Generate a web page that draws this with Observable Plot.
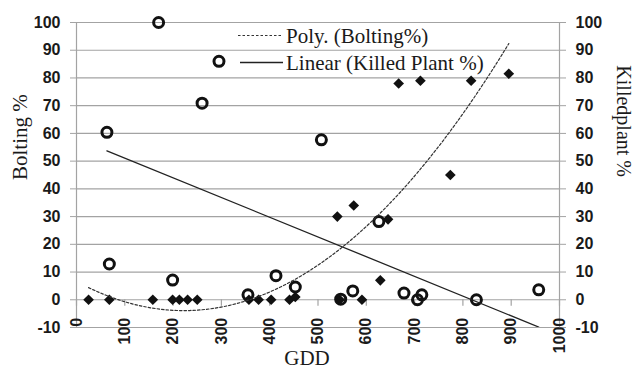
<!DOCTYPE html>
<html>
<head>
<meta charset="utf-8">
<script src="https://cdn.jsdelivr.net/npm/d3@7"></script>
<script src="https://cdn.jsdelivr.net/npm/@observablehq/plot@0.6"></script>
<style>
  html, body { margin: 0; padding: 0; background: white; }
  #wrap { position: relative; width: 635px; height: 373px; }
  #legend { position: absolute; left: 0; top: 0; pointer-events: none; }
</style>
</head>
<body>
<div id="wrap"></div>
<script>
// ---- data ----
const boltingGDD = [25, 68, 158, 199, 213, 230, 250, 357, 377, 403, 441, 453, 545, 540, 574, 591, 629, 645, 667, 712, 774, 817, 895];
const boltingPct = [0, 0, 0, 0, 0, 0, 0, 0, 0, 0, 0, 1, 0, 30, 34, 0, 7, 29, 78, 79, 45, 79, 81.5];
const killedGDD = [63, 68, 170, 199, 260, 295, 355, 413, 453, 507, 547, 572, 626, 678, 706, 715, 828, 957];
const killedPct = [60.4, 12.9, 100, 7.1, 70.9, 86, 1.8, 8.7, 4.6, 57.7, 0.2, 3.2, 28.2, 2.4, 0, 1.8, 0, 3.6];
const gddTicks = [0, 100, 200, 300, 400, 500, 600, 700, 800, 900, 1000];
const pctTicks = [-10, 0, 10, 20, 30, 40, 50, 60, 70, 80, 90, 100];
const xTitle = "GDD";
const yLeftTitle = "Bolting %";
const yRightTitle = "Killedplant %";
const legendLabels = ["Poly. (Bolting%)", "Linear (Killed Plant %)"];

const bolting = boltingGDD.map((x, i) => ({x, y: boltingPct[i]}));
const killed = killedGDD.map((x, i) => ({x, y: killedPct[i]}));

// 2nd-order polynomial least squares (Excel "Poly." trendline)
function quadFit(xs, ys) {
  const s = 1000;
  const S = [0, 0, 0, 0, 0], T = [0, 0, 0];
  xs.forEach((x0, i) => {
    const x = x0 / s;
    for (let k = 0; k < 5; k++) S[k] += x ** k;
    for (let k = 0; k < 3; k++) T[k] += ys[i] * x ** k;
  });
  const A = [[S[0], S[1], S[2], T[0]], [S[1], S[2], S[3], T[1]], [S[2], S[3], S[4], T[2]]];
  for (let c = 0; c < 3; c++) {
    for (let r = c + 1; r < 3; r++) {
      const f = A[r][c] / A[c][c];
      for (let k = c; k < 4; k++) A[r][k] -= f * A[c][k];
    }
  }
  const b = [0, 0, 0];
  for (let r = 2; r >= 0; r--) {
    let v = A[r][3];
    for (let k = r + 1; k < 3; k++) v -= A[r][k] * b[k];
    b[r] = v / A[r][r];
  }
  return x => { const u = x / s; return b[0] + b[1] * u + b[2] * u * u; };
}
const poly = quadFit(boltingGDD, boltingPct);
const [bx0, bx1] = d3.extent(boltingGDD);
const polyCurve = d3.range(0, 101).map(i => {
  const x = bx0 + (bx1 - bx0) * i / 100;
  return {x, y: poly(x)};
});

const gridColor = "#a3a3a3";
const labelColor = "#1a1a1a";
const fmt = d => String(d);

const chart = Plot.plot({
  width: 635,
  height: 373,
  marginLeft: 76,
  marginRight: 76,
  marginTop: 22,
  marginBottom: 46,
  style: {fontFamily: "Liberation Sans", background: "white", overflow: "visible"},
  x: {domain: [0, 1000], axis: null},
  y: {domain: [-10, 100], label: null},
  marks: [
    Plot.gridY(pctTicks, {stroke: gridColor, strokeOpacity: 1, strokeWidth: 1.2}),
    Plot.ruleX([0, 1000], {stroke: gridColor, strokeWidth: 1.2}),
    Plot.axisY(pctTicks, {anchor: "left", tickSize: 6, tickPadding: 10, tickFormat: fmt, stroke: gridColor, fill: labelColor, fontSize: 16, fontWeight: "bold", label: null}),
    Plot.axisY(pctTicks, {anchor: "right", tickSize: 6, tickPadding: 10, tickFormat: fmt, stroke: gridColor, fill: labelColor, fontSize: 16, fontWeight: "bold", label: null}),
    Plot.ruleX(gddTicks, {y1: 0, y2: -2.3, stroke: gridColor, strokeWidth: 1.2}),
    Plot.text(gddTicks, {x: d => d, y: 0, text: fmt, rotate: -90, textAnchor: "end", lineAnchor: "middle", dy: 18, fontSize: 16, fontWeight: "bold", fill: labelColor}),
    Plot.dot(bolting, {x: "x", y: "y", symbol: "diamond2", r: 4.8, fill: "#111", stroke: "none"}),
    Plot.dot(killed, {x: "x", y: "y", r: 5, stroke: "#111", strokeWidth: 3, fill: "none"}),
    Plot.line(polyCurve, {x: "x", y: "y", stroke: "#333", strokeWidth: 1.2, strokeDasharray: "2.5,2", clip: true}),
    Plot.linearRegressionY(killed, {x: "x", y: "y", ci: 0, stroke: "#222", strokeWidth: 1.3, clip: true}),
    Plot.text([yLeftTitle], {text: d => d, frameAnchor: "left", dx: -56, dy: 5, rotate: -90, fontFamily: "Liberation Serif", fontSize: 21, fill: labelColor}),
    Plot.text([yRightTitle], {text: d => d, frameAnchor: "right", dx: 64, dy: 2, rotate: 90, fontFamily: "Liberation Serif", fontSize: 20, fill: labelColor}),
    Plot.text([xTitle], {text: d => d, frameAnchor: "bottom", dx: -11, dy: 37, fontFamily: "Liberation Serif", fontSize: 21, fill: labelColor})
  ]
});

const wrap = document.getElementById("wrap");
wrap.appendChild(chart);

// Legend overlay (no background, like the reference)
const ns = "http://www.w3.org/2000/svg";
const leg = document.createElementNS(ns, "svg");
leg.setAttribute("id", "legend");
leg.setAttribute("width", 635);
leg.setAttribute("height", 373);
const rows = [
  {label: legendLabels[0], dash: "2.5,2", y: 35.5, x0: 238},
  {label: legendLabels[1], dash: null, y: 62.5, x0: 240}
];
rows.forEach(r => {
  const ln = document.createElementNS(ns, "line");
  ln.setAttribute("x1", r.x0); ln.setAttribute("x2", 283);
  ln.setAttribute("y1", r.y); ln.setAttribute("y2", r.y);
  ln.setAttribute("stroke", r.dash ? "#333" : "#222");
  ln.setAttribute("stroke-width", r.dash ? 1.2 : 1.3);
  if (r.dash) ln.setAttribute("stroke-dasharray", r.dash);
  leg.appendChild(ln);
  const t = document.createElementNS(ns, "text");
  t.setAttribute("x", 286);
  t.setAttribute("y", r.y + 7.5);
  t.setAttribute("font-family", "Liberation Serif");
  t.setAttribute("font-size", 21);
  t.setAttribute("fill", labelColor);
  t.textContent = r.label;
  leg.appendChild(t);
});
wrap.appendChild(leg);
</script>
</body>
</html>
